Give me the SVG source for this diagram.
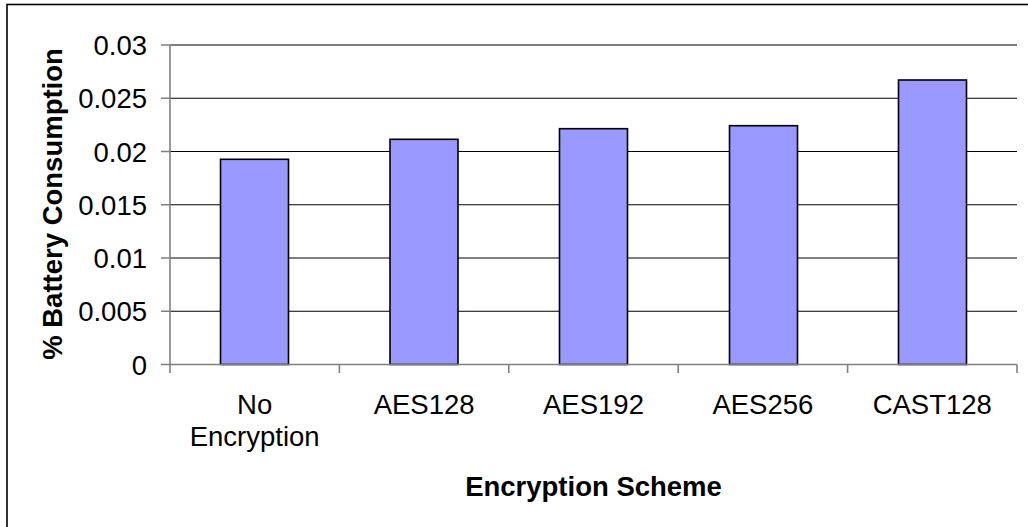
<svg xmlns="http://www.w3.org/2000/svg" width="1028" height="527" viewBox="0 0 1028 527">
<style>
.t{font-family:"Liberation Sans",Arial,sans-serif;font-size:27.5px;fill:#000}
.b{font-weight:bold}
.grid{stroke:#000;stroke-width:1.2}
.axis{stroke:#808080;stroke-width:1.6;fill:none}
.bar{fill:#9999FF;stroke:#000;stroke-width:1.6}
</style>
<rect x="0" y="0" width="1028" height="527" fill="#fff"/>
<rect x="7" y="4.5" width="1040" height="540" fill="none" stroke="#000" stroke-width="1.6"/>
<g id="grid">
<line class="grid" x1="170" y1="45" x2="1017" y2="45"/>
<line class="grid" x1="170" y1="98.25" x2="1017" y2="98.25"/>
<line class="grid" x1="170" y1="151.5" x2="1017" y2="151.5"/>
<line class="grid" x1="170" y1="204.75" x2="1017" y2="204.75"/>
<line class="grid" x1="170" y1="258" x2="1017" y2="258"/>
<line class="grid" x1="170" y1="311.25" x2="1017" y2="311.25"/>
</g>
<g id="bars">
<rect id="bar-no-encryption" class="bar" x="220.5" y="159.3" width="68" height="205.2"/>
<rect id="bar-aes128" class="bar" x="390" y="139.3" width="68" height="225.2"/>
<rect id="bar-aes192" class="bar" x="559.5" y="128.7" width="68" height="235.8"/>
<rect id="bar-aes256" class="bar" x="729.5" y="125.7" width="68" height="238.8"/>
<rect id="bar-cast128" class="bar" x="898.5" y="80" width="68" height="284.5"/>
</g>
<g id="axes">
<path class="axis" d="M170 45 V364.5 H1017"/>
<path class="axis" d="M161 45 H170 M161 98.25 H170 M161 151.5 H170 M161 204.75 H170 M161 258 H170 M161 311.25 H170 M161 364.5 H170"/>
<path class="axis" d="M170 364.5 V373 M339.4 364.5 V373 M508.8 364.5 V373 M678.2 364.5 V373 M847.6 364.5 V373 M1017 364.5 V373"/>
</g>
<g id="y-labels" class="t" text-anchor="end">
<text x="147" y="55">0.03</text>
<text x="147" y="108.25">0.025</text>
<text x="147" y="161.5">0.02</text>
<text x="147" y="214.75">0.015</text>
<text x="147" y="268">0.01</text>
<text x="147" y="321.25">0.005</text>
<text x="147" y="374.5">0</text>
</g>
<g id="x-labels" class="t" text-anchor="middle">
<text x="254.7" y="413.5">No</text>
<text x="254.7" y="446">Encryption</text>
<text x="424.1" y="413.5">AES128</text>
<text x="593.5" y="413.5">AES192</text>
<text x="762.9" y="413.5">AES256</text>
<text x="932.3" y="413.5">CAST128</text>
</g>
<text id="x-title" class="t b" x="593.5" y="496" text-anchor="middle">Encryption Scheme</text>
<text id="y-title" class="t b" transform="translate(61.5,204) rotate(-90)" text-anchor="middle">% Battery Consumption</text>
</svg>
